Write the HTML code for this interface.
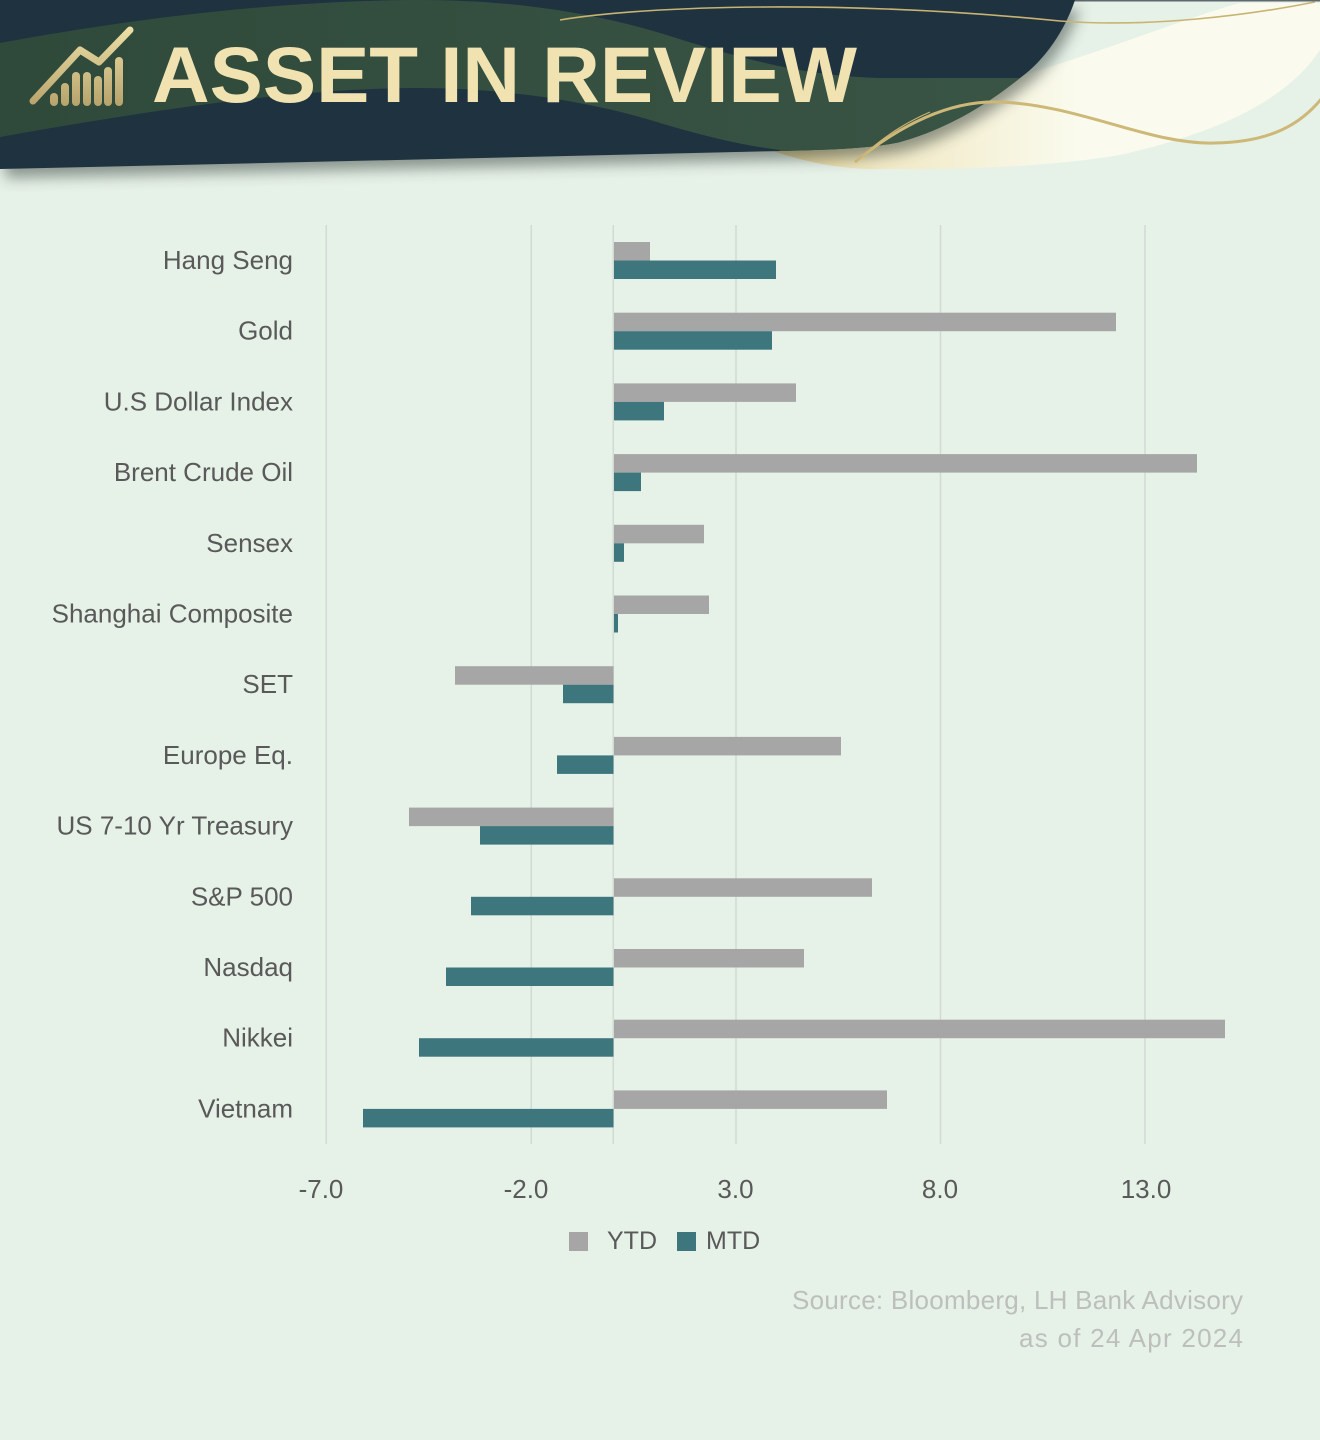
<!DOCTYPE html>
<html>
<head>
<meta charset="utf-8">
<style>
  html,body{margin:0;padding:0;background:#e6f1e7;}
  svg{display:block;}
  text{font-family:"Liberation Sans",Arial,sans-serif;}
</style>
</head>
<body>
<svg width="1320" height="1440" viewBox="0 0 1320 1440" xmlns="http://www.w3.org/2000/svg">
  <defs>
    <filter id="blur" x="-10%" y="-30%" width="120%" height="160%">
      <feGaussianBlur stdDeviation="7"/>
    </filter>
    <clipPath id="darkClip">
      <path d="M0,0 H1075 C1065,30 1045,60 1020,78 C990,102 950,128 900,142 C870,149 820,150 780,151 Q400,160 0,169 Z"/>
    </clipPath>
    <linearGradient id="greenGrad" x1="0" y1="0" x2="1" y2="0">
      <stop offset="0" stop-color="#2f4a3a"/>
      <stop offset="1" stop-color="#3a5545"/>
    </linearGradient>
    <linearGradient id="creamGrad" x1="780" y1="0" x2="1080" y2="0" gradientUnits="userSpaceOnUse">
      <stop offset="0" stop-color="#e2cf92"/>
      <stop offset="0.35" stop-color="#f1e9c6"/>
      <stop offset="1" stop-color="#fafbee"/>
    </linearGradient>
    <linearGradient id="goldGrad" x1="0" y1="25" x2="0" y2="108" gradientUnits="userSpaceOnUse">
      <stop offset="0" stop-color="#efe1a9"/>
      <stop offset="1" stop-color="#b5a26a"/>
    </linearGradient>
  </defs>

  <!-- page background -->
  <rect x="0" y="0" width="1320" height="1440" fill="#e6f1e7"/>

  <!-- ===== HEADER ===== -->
  <!-- cream band -->
  <path d="M770,150 C850,130 950,95 1040,70 C1120,45 1180,20 1240,3 L1320,3 L1320,50 C1290,95 1230,130 1120,155 C1040,168 950,170 870,169 C830,168 800,160 770,150 Z" fill="url(#creamGrad)"/>
  <!-- top thin line -->
  <rect x="0" y="0" width="1320" height="1.5" fill="#5f686c"/>
  <!-- shadow of dark shape -->
  <path d="M0,0 H1075 C1065,30 1045,60 1020,78 C990,102 950,128 900,142 C870,149 820,150 780,151 Q400,160 0,169 Z" fill="#2e3a36" opacity="0.5" filter="url(#blur)" transform="translate(5,9)"/>
  <!-- dark navy shape -->
  <path d="M0,0 H1075 C1065,30 1045,60 1020,78 C990,102 950,128 900,142 C870,149 820,150 780,151 Q400,160 0,169 Z" fill="#1f3240"/>
  <!-- green band clipped -->
  <g clip-path="url(#darkClip)">
    <path d="M0,43 C150,15 300,0 420,0 C520,0 600,15 660,33 C740,58 800,76 880,78 L1100,78 L1100,200 L780,200 L780,150 C740,145 700,135 660,123 C620,110 530,88 420,88 C300,88 150,110 0,137 Z" fill="url(#greenGrad)"/>
  </g>
  <!-- gold lines -->
  <path d="M560,20 C650,5 850,0 1060,21 C1150,28 1250,15 1315,2" fill="none" stroke="#c9b372" stroke-width="1.6"/>
  <path d="M855,162 C900,125 950,100 1000,102 C1080,105 1150,145 1215,143 C1270,142 1300,125 1322,98" fill="none" stroke="#cdb877" stroke-width="3"/>
  <path d="M855,162 C880,140 900,125 930,112" fill="none" stroke="#c9b372" stroke-width="1.2"/>

  <!-- icon -->
  <g fill="url(#goldGrad)">
    <rect x="50" y="93" width="8" height="13" rx="4"/>
    <rect x="61" y="83" width="8" height="23" rx="4"/>
    <rect x="72" y="72" width="8" height="34" rx="4"/>
    <rect x="83" y="72" width="8" height="34" rx="4"/>
    <rect x="94" y="76" width="8" height="30" rx="4"/>
    <rect x="104" y="67" width="8" height="39" rx="4"/>
    <rect x="115" y="57" width="8" height="49" rx="4"/>
  </g>
  <polyline points="33,101 80,50 99,62 130,30" fill="none" stroke="url(#goldGrad)" stroke-width="7" stroke-linecap="round" stroke-linejoin="round"/>

  <!-- title -->
  <text x="152" y="102" font-size="79" font-weight="bold" fill="#f0e3b1" textLength="705" lengthAdjust="spacingAndGlyphs">ASSET IN REVIEW</text>

  <!-- ===== CHART ===== -->
  <!-- gridlines -->
  <g stroke="#d2dad4" stroke-width="1.5">
    <line x1="326.3" y1="225" x2="326.3" y2="1144"/>
    <line x1="531.3" y1="225" x2="531.3" y2="1144"/>
    <line x1="736" y1="225" x2="736" y2="1144"/>
    <line x1="940.5" y1="225" x2="940.5" y2="1144"/>
    <line x1="1145" y1="225" x2="1145" y2="1144"/>
    <line x1="613.3" y1="225" x2="613.3" y2="1144"/>
  </g>

  <!-- bars: YTD gray, MTD teal -->
  <g fill="#a6a6a6">
    <rect x="614" y="242.0" width="36" height="18.5"/>
    <rect x="614" y="312.7" width="502" height="18.5"/>
    <rect x="614" y="383.4" width="182" height="18.5"/>
    <rect x="614" y="454.1" width="583" height="18.5"/>
    <rect x="614" y="524.8" width="90" height="18.5"/>
    <rect x="614" y="595.5" width="95" height="18.5"/>
    <rect x="455" y="666.2" width="158.5" height="18.5"/>
    <rect x="614" y="736.9" width="227" height="18.5"/>
    <rect x="409" y="807.6" width="204.5" height="18.5"/>
    <rect x="614" y="878.3" width="258" height="18.5"/>
    <rect x="614" y="949.0" width="190" height="18.5"/>
    <rect x="614" y="1019.7" width="611" height="18.5"/>
    <rect x="614" y="1090.4" width="273" height="18.5"/>
  </g>
  <g fill="#3e767e">
    <rect x="614" y="260.5" width="162" height="18.5"/>
    <rect x="614" y="331.2" width="158" height="18.5"/>
    <rect x="614" y="401.9" width="50" height="18.5"/>
    <rect x="614" y="472.6" width="27" height="18.5"/>
    <rect x="614" y="543.3" width="10" height="18.5"/>
    <rect x="614" y="614.0" width="4" height="18.5"/>
    <rect x="563" y="684.7" width="50.5" height="18.5"/>
    <rect x="557" y="755.4" width="56.5" height="18.5"/>
    <rect x="480" y="826.1" width="133.5" height="18.5"/>
    <rect x="471" y="896.8" width="142.5" height="18.5"/>
    <rect x="446" y="967.5" width="167.5" height="18.5"/>
    <rect x="419" y="1038.2" width="194.5" height="18.5"/>
    <rect x="363" y="1108.9" width="250.5" height="18.5"/>
  </g>

  <!-- category labels -->
  <g font-size="26" fill="#595959" text-anchor="end">
    <text x="293" y="269">Hang Seng</text>
    <text x="293" y="339.7">Gold</text>
    <text x="293" y="410.4">U.S Dollar Index</text>
    <text x="293" y="481.1">Brent Crude Oil</text>
    <text x="293" y="551.8">Sensex</text>
    <text x="293" y="622.5">Shanghai Composite</text>
    <text x="293" y="693.2">SET</text>
    <text x="293" y="763.9">Europe Eq.</text>
    <text x="293" y="834.6">US 7-10 Yr Treasury</text>
    <text x="293" y="905.3">S&amp;P 500</text>
    <text x="293" y="976">Nasdaq</text>
    <text x="293" y="1046.7">Nikkei</text>
    <text x="293" y="1117.4">Vietnam</text>
  </g>

  <!-- x tick labels -->
  <g font-size="26" fill="#595959" text-anchor="middle">
    <text x="321" y="1198">-7.0</text>
    <text x="526" y="1198">-2.0</text>
    <text x="735.5" y="1198">3.0</text>
    <text x="940" y="1198">8.0</text>
    <text x="1146" y="1198">13.0</text>
  </g>

  <!-- legend -->
  <rect x="569" y="1232" width="19" height="19" fill="#a6a6a6"/>
  <text x="607" y="1249" font-size="25" fill="#595959">YTD</text>
  <rect x="677" y="1232" width="19" height="19" fill="#3e767e"/>
  <text x="706" y="1249" font-size="25" fill="#595959">MTD</text>

  <!-- source -->
  <g font-size="26" fill="#bcbfbc">
    <text x="792" y="1309" textLength="451" lengthAdjust="spacing">Source: Bloomberg, LH Bank Advisory</text>
    <text x="1019" y="1347" textLength="224" lengthAdjust="spacing">as of 24 Apr 2024</text>
  </g>
</svg>
</body>
</html>
